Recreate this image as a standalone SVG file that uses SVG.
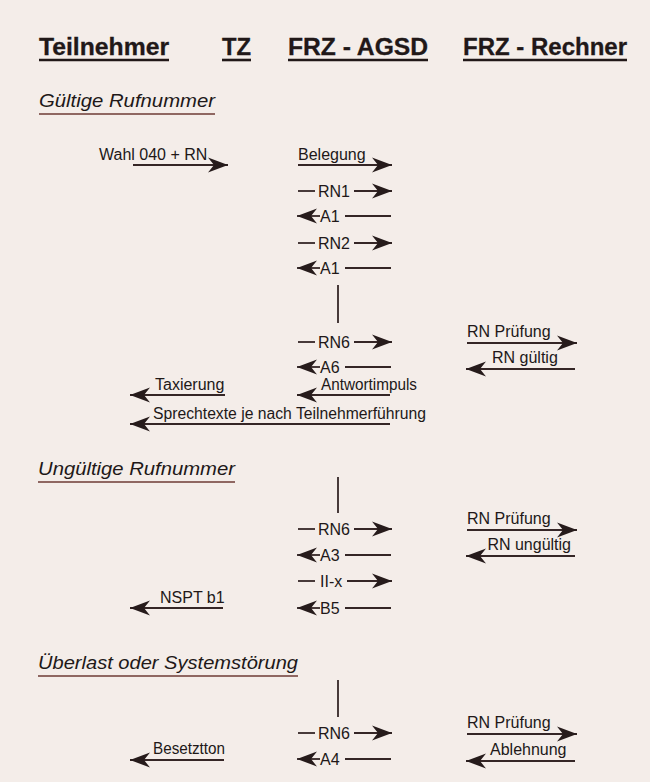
<svg xmlns="http://www.w3.org/2000/svg" width="650" height="782" viewBox="0 0 650 782">
  <style>
    text { font-family: "Liberation Sans", Arial, sans-serif; fill: #211818; }
    .hd { font-size: 24px; font-weight: bold; stroke: #211818; stroke-width: 0.3; }
    .sec { font-size: 19px; font-style: italic; }
    .lb { font-size: 16px; }
    .ul { stroke: #211818; stroke-width: 2.6; }
    .sul { stroke: #6e3a35; stroke-width: 1.7; }
    .ln { stroke: #352626; stroke-width: 1.8; fill: none; }
    .ar { stroke: #352626; stroke-width: 1.8; fill: none; marker-end: url(#ah); }
  </style>
  <defs>
    <!-- barbed arrowhead shared by every message -->
    <marker id="ah" markerUnits="userSpaceOnUse" markerWidth="21" markerHeight="16" viewBox="0 0 21 16" refX="20" refY="8" orient="auto">
      <path d="M0,0.5 L20,8 L0,15.5 L6,8 Z" fill="#261b1b"/>
    </marker>
  </defs>

  <rect width="650" height="782" fill="#f4ede9"/>

  <!-- participants -->
  <g id="teilnehmer">
    <text class="hd" x="39" y="55" textLength="130" lengthAdjust="spacingAndGlyphs">Teilnehmer</text>
    <line class="ul" x1="39" y1="60" x2="169" y2="60"/>
  </g>
  <g id="tz">
    <text class="hd" x="222" y="55" textLength="29" lengthAdjust="spacingAndGlyphs">TZ</text>
    <line class="ul" x1="222" y1="60" x2="251" y2="60"/>
  </g>
  <g id="frz-agsd">
    <text class="hd" x="288" y="55" textLength="140" lengthAdjust="spacingAndGlyphs">FRZ - AGSD</text>
    <line class="ul" x1="288" y1="60" x2="428" y2="60"/>
  </g>
  <g id="frz-rechner">
    <text class="hd" x="463" y="55" textLength="164" lengthAdjust="spacingAndGlyphs">FRZ - Rechner</text>
    <line class="ul" x1="463" y1="60" x2="627" y2="60"/>
  </g>

  <!-- case headings -->
  <g id="case-gueltig">
    <text class="sec" x="39" y="107" textLength="176" lengthAdjust="spacingAndGlyphs">Gültige Rufnummer</text>
    <line class="sul" x1="39" y1="114" x2="215" y2="114"/>
  </g>
  <g id="case-ungueltig">
    <text class="sec" x="38" y="475" textLength="197" lengthAdjust="spacingAndGlyphs">Ungültige Rufnummer</text>
    <line class="sul" x1="38" y1="482" x2="235" y2="482"/>
  </g>
  <g id="case-ueberlast">
    <text class="sec" x="38" y="669" textLength="260" lengthAdjust="spacingAndGlyphs">Überlast oder Systemstörung</text>
    <line class="sul" x1="38" y1="676" x2="298" y2="676"/>
  </g>

  <!-- messages -->
  <g id="connectors">
    <!-- Gültige Rufnummer -->
    <g id="m-wahl">
      <text class="lb" x="99" y="160">Wahl 040 + RN</text>
      <line class="ar" x1="133" y1="165" x2="228" y2="165"/>
    </g>
    <g id="m-belegung">
      <text class="lb" x="298" y="160">Belegung</text>
      <line class="ar" x1="298" y1="165" x2="392" y2="165"/>
    </g>
    <g id="m-rn1">
      <line class="ln" x1="298" y1="191" x2="315" y2="191"/>
      <text class="lb" x="318" y="196.7">RN1</text>
      <line class="ar" x1="354" y1="191" x2="392" y2="191"/>
    </g>
    <g id="m-a1a">
      <line class="ar" x1="320" y1="216" x2="297" y2="216"/>
      <text class="lb" x="320" y="221.7">A1</text>
      <line class="ln" x1="345" y1="216" x2="391" y2="216"/>
    </g>
    <g id="m-rn2">
      <line class="ln" x1="298" y1="243" x2="315" y2="243"/>
      <text class="lb" x="318" y="248.7">RN2</text>
      <line class="ar" x1="354" y1="243" x2="392" y2="243"/>
    </g>
    <g id="m-a1b">
      <line class="ar" x1="320" y1="268" x2="297" y2="268"/>
      <text class="lb" x="320" y="273.7">A1</text>
      <line class="ln" x1="345" y1="268" x2="391" y2="268"/>
    </g>
    <line class="ln" x1="338" y1="285" x2="338" y2="323"/>
    <g id="m-rn6a">
      <line class="ln" x1="298" y1="342" x2="315" y2="342"/>
      <text class="lb" x="318" y="347.7">RN6</text>
      <line class="ar" x1="354" y1="342" x2="392" y2="342"/>
    </g>
    <g id="m-pruef-a">
      <text class="lb" x="467" y="337">RN Prüfung</text>
      <line class="ar" x1="467" y1="343" x2="577" y2="343"/>
    </g>
    <g id="m-a6">
      <line class="ar" x1="320" y1="367" x2="297" y2="367"/>
      <text class="lb" x="320" y="372.7">A6</text>
      <line class="ln" x1="345" y1="367" x2="391" y2="367"/>
    </g>
    <g id="m-gueltig">
      <text class="lb" x="492" y="363">RN gültig</text>
      <line class="ar" x1="575" y1="369" x2="466" y2="369"/>
    </g>
    <g id="m-taxierung">
      <text class="lb" x="155" y="390">Taxierung</text>
      <line class="ar" x1="225" y1="395" x2="130" y2="395"/>
    </g>
    <g id="m-antwort">
      <text class="lb" x="321" y="390" textLength="96" lengthAdjust="spacingAndGlyphs">Antwortimpuls</text>
      <line class="ar" x1="390" y1="395" x2="297" y2="395"/>
    </g>
    <g id="m-sprechtexte">
      <text class="lb" x="153" y="419" textLength="273" lengthAdjust="spacingAndGlyphs">Sprechtexte je nach Teilnehmerführung</text>
      <line class="ar" x1="390" y1="424" x2="130" y2="424"/>
    </g>

    <!-- Ungültige Rufnummer -->
    <line class="ln" x1="338" y1="477" x2="338" y2="513"/>
    <g id="m-rn6b">
      <line class="ln" x1="298" y1="529" x2="315" y2="529"/>
      <text class="lb" x="318" y="534.7">RN6</text>
      <line class="ar" x1="354" y1="529" x2="392" y2="529"/>
    </g>
    <g id="m-pruef-b">
      <text class="lb" x="467" y="524">RN Prüfung</text>
      <line class="ar" x1="467" y1="530" x2="577" y2="530"/>
    </g>
    <g id="m-a3">
      <line class="ar" x1="320" y1="555" x2="297" y2="555"/>
      <text class="lb" x="320" y="560.7">A3</text>
      <line class="ln" x1="345" y1="555" x2="391" y2="555"/>
    </g>
    <g id="m-ungueltig">
      <text class="lb" x="571" y="550" text-anchor="end">RN ungültig</text>
      <line class="ar" x1="575" y1="556" x2="466" y2="556"/>
    </g>
    <g id="m-iix">
      <line class="ln" x1="298" y1="581" x2="315" y2="581"/>
      <text class="lb" x="320" y="586.7">II-x</text>
      <line class="ar" x1="347" y1="581" x2="392" y2="581"/>
    </g>
    <g id="m-nspt">
      <text class="lb" x="160" y="603">NSPT b1</text>
      <line class="ar" x1="223" y1="608" x2="130" y2="608"/>
    </g>
    <g id="m-b5">
      <line class="ar" x1="320" y1="608" x2="297" y2="608"/>
      <text class="lb" x="320" y="613.7">B5</text>
      <line class="ln" x1="345" y1="608" x2="391" y2="608"/>
    </g>

    <!-- Überlast oder Systemstörung -->
    <line class="ln" x1="338" y1="680" x2="338" y2="717"/>
    <g id="m-rn6c">
      <line class="ln" x1="298" y1="733" x2="315" y2="733"/>
      <text class="lb" x="318" y="738.7">RN6</text>
      <line class="ar" x1="354" y1="733" x2="392" y2="733"/>
    </g>
    <g id="m-pruef-c">
      <text class="lb" x="467" y="728">RN Prüfung</text>
      <line class="ar" x1="467" y1="734" x2="577" y2="734"/>
    </g>
    <g id="m-besetzt">
      <text class="lb" x="153" y="754" textLength="72" lengthAdjust="spacingAndGlyphs">Besetztton</text>
      <line class="ar" x1="224" y1="760" x2="130" y2="760"/>
    </g>
    <g id="m-a4">
      <line class="ar" x1="320" y1="759" x2="297" y2="759"/>
      <text class="lb" x="320" y="764.7">A4</text>
      <line class="ln" x1="345" y1="759" x2="391" y2="759"/>
    </g>
    <g id="m-ablehnung">
      <text class="lb" x="490" y="755">Ablehnung</text>
      <line class="ar" x1="575" y1="761" x2="466" y2="761"/>
    </g>
  </g>
</svg>
